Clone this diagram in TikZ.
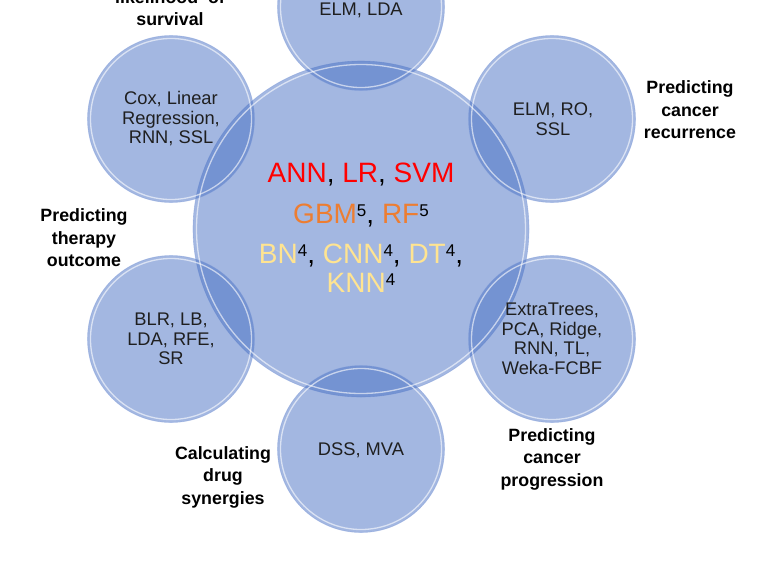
\documentclass[tikz,border=0pt]{standalone}
\usepackage{fontspec}
\setmainfont{Liberation Sans}
\definecolor{bubfill}{RGB}{71,111,195}
\definecolor{bubedge}{RGB}{120,150,215}
\definecolor{orng}{RGB}{237,125,49}
\definecolor{goldtxt}{RGB}{255,228,145}
\newcommand\sups[1]{\raisebox{6.5pt}{\fontsize{17}{17}\selectfont #1}}
\tikzset{
  bub/.style={circle, inner sep=0pt, fill=bubfill, fill opacity=0.5, draw=bubedge, draw opacity=0.45, line width=0.6pt},
  rim/.style={draw=white, opacity=0.6, line width=1.3pt},
  sattxt/.style={align=center, font=\fontsize{18.3}{19.5}\selectfont, text=black!88},
  lbl/.style={align=center, font=\fontsize{17.8}{22.5}\selectfont\bfseries, text=black},
  cenline/.style={anchor=base, font=\fontsize{28}{29}\selectfont, inner sep=0pt}
}
\begin{document}
\begin{tikzpicture}[x=1pt,y=-1pt]
\useasboundingbox (0,0) rectangle (768,576);
\clip (0,0) rectangle (768,576);
% circles
\node[bub, minimum size=336pt] (cen) at (361,229) {};
\node[bub, minimum size=167pt] (top) at (361,7) {};
\node[bub, minimum size=167pt] (tl) at (171,119) {};
\node[bub, minimum size=167pt] (tr) at (552,119) {};
\node[bub, minimum size=167pt] (bl) at (171,339) {};
\node[bub, minimum size=167pt] (br) at (552,339) {};
\node[bub, minimum size=167pt] (bot) at (361,449) {};
% glassy rims
\draw[rim] (cen.center) circle[radius=164.5pt];
\foreach \n in {top,tl,tr,bl,br,bot}{
  \draw[rim] (\n.center) circle[radius=80.5pt];
}
% satellite texts
\node[sattxt] (ttop) at (361,10) {ELM, LDA};
\node[sattxt] (ttl) at (171,119) {Cox, Linear\\Regression,\\RNN, SSL};
\node[sattxt] (ttr) at (553,119) {ELM, RO,\\SSL};
\node[sattxt] (tbl) at (171,339) {BLR, LB,\\LDA, RFE,\\SR};
\node[sattxt] (tbr) at (552,339) {ExtraTrees,\\PCA, Ridge,\\RNN, TL,\\Weka-FCBF};
\node[sattxt] (tbot) at (361,450) {DSS, MVA};
% central texts
\node[cenline] (c1) at (361,182) {\textcolor{red}{ANN}, \textcolor{red}{LR}, \textcolor{red}{SVM}};
\node[cenline] (c2) at (361,223) {\textcolor{orng}{GBM}\sups{5}, \textcolor{orng}{RF}\sups{5}};
\node[cenline] (c3) at (361,263) {\textcolor{goldtxt}{BN}\sups{4}, \textcolor{goldtxt}{CNN}\sups{4}, \textcolor{goldtxt}{DT}\sups{4},};
\node[cenline] (c4) at (361,292) {\textcolor{goldtxt}{KNN}\sups{4}};
% labels
\node[lbl] (lsurv) at (170,8) {likelihood\ \ of\\survival};
\node[lbl] (lrec) at (690,110) {Predicting\\cancer\\recurrence};
\node[lbl] (lther) at (84,238) {Predicting\\therapy\\outcome};
\node[lbl] (lprog) at (552,459) {Predicting\\cancer\\progression};
\node[lbl] (ldrug) at (223,477) {Calculating\\drug\\synergies};
\end{tikzpicture}
\end{document}
